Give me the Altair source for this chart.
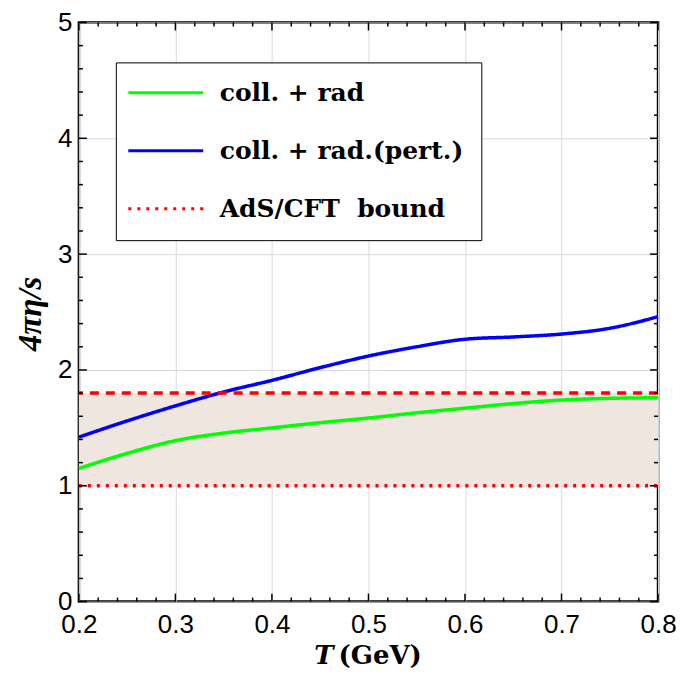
import altair as alt
import pandas as pd

# ---- data ----
T = [0.20, 0.25, 0.30, 0.35, 0.40, 0.45, 0.50, 0.55, 0.60, 0.65, 0.70, 0.75, 0.80]
coll_rad = [1.15, 1.28, 1.39, 1.455, 1.50, 1.545, 1.585, 1.63, 1.67, 1.71, 1.74, 1.755, 1.76]
coll_rad_pert = [1.42, 1.56, 1.69, 1.81, 1.91, 2.02, 2.12, 2.20, 2.265, 2.285, 2.31, 2.36, 2.46]
bound_T = [0.2, 0.8]
bound_val = [1.0, 1.0]
upper_val = [1.8]
band_lo = [1.0]
band_hi = [1.8]

series_names = ["coll. + rad", "coll. + rad.(pert.)", "AdS/CFT\u00a0\u00a0bound"]
series_colors = ["#00ff00", "#0000ff", "#ff0000"]

x_major = [0.2, 0.3, 0.4, 0.5, 0.6, 0.7, 0.8]
x_minor = [0.22, 0.24, 0.26, 0.28, 0.32, 0.34, 0.36, 0.38, 0.42, 0.44, 0.46, 0.48,
           0.52, 0.54, 0.56, 0.58, 0.62, 0.64, 0.66, 0.68, 0.72, 0.74, 0.76, 0.78]
y_major = [0, 1, 2, 3, 4, 5]
y_minor = [0.2, 0.4, 0.6, 0.8, 1.2, 1.4, 1.6, 1.8, 2.2, 2.4, 2.6, 2.8,
           3.2, 3.4, 3.6, 3.8, 4.2, 4.4, 4.6, 4.8]

# ---- tables ----
lines_df = pd.concat([
    pd.DataFrame({"T": T, "v": coll_rad, "series": series_names[0], "o": range(len(T))}),
    pd.DataFrame({"T": T, "v": coll_rad_pert, "series": series_names[1], "o": range(len(T))}),
    pd.DataFrame({"T": bound_T, "v": bound_val, "series": series_names[2], "o": range(2)}),
])
band_df = pd.DataFrame({"x0": [bound_T[0]], "x1": [bound_T[1]], "lo": band_lo, "hi": band_hi})
upper_df = pd.DataFrame({"v": upper_val})
xmaj_df = pd.DataFrame({"t": x_major})
xmin_df = pd.DataFrame({"t": x_minor})
ymaj_df = pd.DataFrame({"t": y_major})
ymin_df = pd.DataFrame({"t": y_minor})

W, H = 580, 580
xs = alt.Scale(domain=[0.2, 0.8], nice=False, zero=False)
ys = alt.Scale(domain=[0, 5], nice=False, zero=False)

x_axis = alt.Axis(values=x_major, format=".1f", title=None, ticks=False, domain=False,
                  grid=True, labelFlush=False, labelOverlap=False, labelPadding=10)
y_axis = alt.Axis(values=y_major, format="d", title=None, ticks=False, domain=False,
                  grid=True, labelFlush=False, labelOverlap=False, labelPadding=7)

band = alt.Chart(band_df).mark_rect(color="#efe6e0").encode(
    x=alt.X("x0:Q", scale=xs, axis=x_axis),
    x2="x1:Q",
    y=alt.Y("lo:Q", scale=ys, axis=y_axis),
    y2="hi:Q",
)

upper = alt.Chart(upper_df).mark_rule(color="#ff0000", strokeWidth=3.5, strokeDash=[9, 7]).encode(
    y=alt.Y("v:Q", scale=ys, axis=y_axis)
)

leg = alt.Legend(
    title=None, orient="none", legendX=37, legendY=40,
    symbolType="M-3.75,0H3.75", symbolSize=400, symbolStrokeWidth=3,
    symbolOffset=19.5, padding=18, labelOffset=41.5, rowPadding=32,
    labelFont="DejaVu Serif", labelFontWeight="bold", labelFontSize=25,
    labelColor="black", labelLimit=500, fillColor="white", strokeColor="black",
)

lines = alt.Chart(lines_df).mark_line(interpolate="monotone", strokeWidth=3.5).encode(
    x=alt.X("T:Q", scale=xs, axis=x_axis),
    y=alt.Y("v:Q", scale=ys, axis=y_axis),
    color=alt.Color("series:N", scale=alt.Scale(domain=series_names, range=series_colors), legend=leg),
    strokeDash=alt.StrokeDash("series:N", scale=alt.Scale(domain=series_names, range=[[1, 0], [1, 0], [3, 6]]), legend=leg),
    order="o:Q",
)

def xticks(df, length, top):
    if top:
        return alt.Chart(df).mark_rule(color="black", strokeWidth=1.5).encode(
            x=alt.X("t:Q", scale=xs, axis=x_axis), y=alt.value(0), y2=alt.value(length))
    return alt.Chart(df).mark_rule(color="black", strokeWidth=1.5).encode(
        x=alt.X("t:Q", scale=xs, axis=x_axis), y=alt.value(H), y2=alt.value(H - length))

def yticks(df, length, right):
    if right:
        return alt.Chart(df).mark_rule(color="black", strokeWidth=1.5).encode(
            y=alt.Y("t:Q", scale=ys, axis=y_axis), x=alt.value(W), x2=alt.value(W - length))
    return alt.Chart(df).mark_rule(color="black", strokeWidth=1.5).encode(
        y=alt.Y("t:Q", scale=ys, axis=y_axis), x=alt.value(0), x2=alt.value(length))

ticks = [
    xticks(xmaj_df, 8, False), xticks(xmaj_df, 8, True),
    xticks(xmin_df, 4, False), xticks(xmin_df, 4, True),
    yticks(ymaj_df, 8, False), yticks(ymaj_df, 8, True),
    yticks(ymin_df, 4, False), yticks(ymin_df, 4, True),
]

ytitle = alt.Chart(pd.DataFrame({"s": ["4πη/s"]})).mark_text(
    font="Liberation Serif", fontWeight="bold", fontStyle="italic", fontSize=33,
    angle=270, align="center", baseline="middle", color="black",
).encode(text="s:N", x=alt.value(-48), y=alt.value(292))

xtitle_T = alt.Chart(pd.DataFrame({"s": ["T"]})).mark_text(
    font="DejaVu Serif", fontWeight="bold", fontStyle="italic", fontSize=26,
    align="right", baseline="alphabetic", color="black",
).encode(text="s:N", x=alt.value(255), y=alt.value(642))

xtitle_unit = alt.Chart(pd.DataFrame({"s": ["(GeV)"]})).mark_text(
    font="DejaVu Serif", fontWeight="bold", fontSize=26,
    align="left", baseline="alphabetic", color="black",
).encode(text="s:N", x=alt.value(260), y=alt.value(642))

chart = alt.layer(band, lines, upper, *ticks, ytitle, xtitle_T, xtitle_unit).properties(
    width=W, height=H,
    padding={"left": 71, "top": 14, "right": 30, "bottom": 68},
    autosize=alt.AutoSizeParams(type="none"),
).configure_view(
    stroke="black", strokeWidth=2.5
).configure_axis(
    labelFont="Liberation Sans", labelFontSize=26, labelColor="black",
    gridColor="#d9d9d9", gridWidth=1,
)

chart.save("out.html", embed_options={"renderer": "svg", "actions": False})
